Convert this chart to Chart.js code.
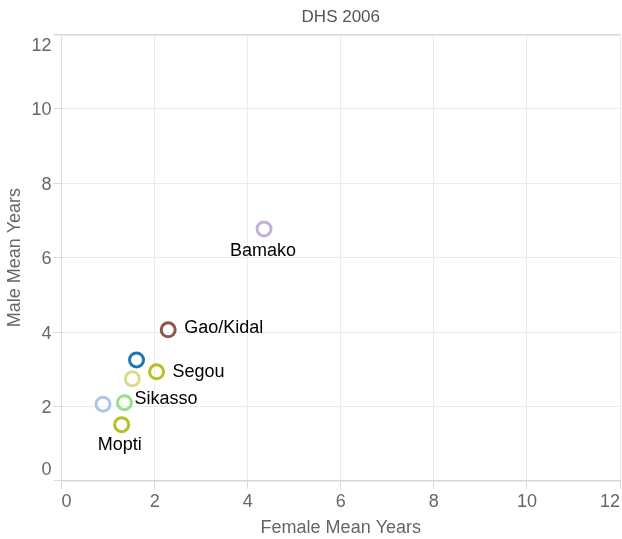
<!DOCTYPE html>
<html>
<head>
<meta charset="utf-8">
<script src="https://cdn.jsdelivr.net/npm/chart.js@4.4.0/dist/chart.umd.min.js"></script>
<style>
  html, body { margin: 0; padding: 0; background: #fff; overflow: hidden; }
  #wrap { width: 630px; height: 539px; position: relative; }
</style>
</head>
<body>
<div id="wrap"><canvas id="scatterChart"></canvas></div>
<script>
// DHS 2006 - mean years of schooling by region
const regions = ['Kayes', 'Koulikoro', 'Sikasso', 'Segou', 'Mopti', 'Tombouctou', 'Gao/Kidal', 'Bamako'];
const femaleYears = [0.89, 1.61, 1.35, 2.04, 1.29, 1.52, 2.29, 4.35];
const maleYears = [2.06, 3.25, 2.10, 2.93, 1.51, 2.74, 4.06, 6.77];
const regionColors = ['#aec7e8', '#1f77b4', '#98df8a', '#bcbd22', '#bcbd22', '#dbdb8d', '#8c564b', '#c5b0d5'];
const axisTicks = [0, 2, 4, 6, 8, 10, 12];

const FONT = '"Liberation Sans", Arial, sans-serif';

// where each visible label goes relative to its point (others hidden, they overlap)
const labelPlacement = {
    'Sikasso': { align: 'left', dx: 10, dy: 1.6 },
    'Segou': { align: 'left', dx: 16, dy: 5.6 },
    'Mopti': { align: 'center', dx: -2, dy: 25 },
    'Gao/Kidal': { align: 'left', dx: 16, dy: 3.3 },
    'Bamako': { align: 'center', dx: -1, dy: 26.7 }
};

const pointLabels = {
    id: 'pointLabels',
    afterDatasetsDraw(chart) {
        const ctx = chart.ctx;
        const meta = chart.getDatasetMeta(0);
        ctx.save();
        ctx.font = '18px ' + FONT;
        ctx.fillStyle = '#000';
        ctx.textBaseline = 'alphabetic';
        meta.data.forEach((pt, i) => {
            const p = labelPlacement[regions[i]];
            if (!p) return;
            ctx.textAlign = p.align;
            ctx.fillText(regions[i], pt.x + p.dx, pt.y + p.dy);
        });
        ctx.restore();
    }
};

// y tick labels flush inside the axis ends (first one sits above 0, last one below 12)
const yFlushLabels = {
    id: 'yFlushLabels',
    afterDraw(chart) {
        const ctx = chart.ctx;
        const y = chart.scales.y;
        ctx.save();
        ctx.font = '18px ' + FONT;
        ctx.fillStyle = '#666';
        ctx.textAlign = 'right';
        ctx.textBaseline = 'alphabetic';
        axisTicks.forEach((v, i) => {
            const py = y.getPixelForValue(v);
            let off = 6.5;
            if (i === 0) off = -5.5;
            if (i === axisTicks.length - 1) off = 17;
            ctx.fillText(String(v), chart.chartArea.left - 10, py + off);
        });
        ctx.restore();
    }
};

const yGridColor = (c) => (c.tick && c.tick.value === 12) ? '#d6d6d6' : '#ebebeb';

const ctx = document.getElementById('scatterChart');
const scatterChart = new Chart(ctx, {
    type: 'scatter',
    data: {
        datasets: [{
            label: 'DHS 2006',
            data: regions.map((r, i) => ({ x: femaleYears[i], y: maleYears[i] })),
            backgroundColor: 'rgba(0,0,0,0)',
            borderColor: regionColors,
            pointRadius: 7,
            pointHoverRadius: 7,
            pointBorderWidth: 3,
            pointHoverBorderWidth: 3
        }]
    },
    options: {
        responsive: true,
        maintainAspectRatio: false,
        animation: false,
        layout: { padding: { left: 4, right: 0, top: 0, bottom: 0 } },
        scales: {
            x: {
                type: 'linear',
                min: 0,
                max: 12,
                afterBuildTicks: (s) => { s.ticks = axisTicks.map(v => ({ value: v })); },
                grid: { color: '#ebebeb', tickColor: '#d9d9d9', tickLength: 8, lineWidth: 1 },
                border: { color: '#d6d6d6', width: 1.5 },
                ticks: { align: 'inner', color: '#666', padding: 2, font: { size: 18, family: FONT } },
                title: { display: true, text: 'Female Mean Years', color: '#666', padding: { top: 3, bottom: 0 }, font: { size: 18, family: FONT } }
            },
            y: {
                type: 'linear',
                min: 0,
                max: 12,
                afterBuildTicks: (s) => { s.ticks = axisTicks.map(v => ({ value: v })); },
                grid: { color: yGridColor, tickColor: '#d9d9d9', tickLength: 8, lineWidth: (c) => (c.tick && c.tick.value === 12) ? 1.5 : 1 },
                border: { color: '#dddddd', width: 1 },
                ticks: { color: 'rgba(0,0,0,0)', padding: 2, font: { size: 18, family: FONT } },
                title: { display: true, text: 'Male Mean Years', color: '#666', padding: { top: 0, bottom: 4 }, font: { size: 18, family: FONT } }
            }
        },
        plugins: {
            legend: { display: false },
            tooltip: { enabled: false },
            title: {
                display: true,
                fullSize: false,
                text: 'DHS 2006',
                color: '#555',
                padding: { top: 7, bottom: 7 },
                font: { size: 17, weight: 'normal', family: FONT }
            }
        }
    },
    plugins: [pointLabels, yFlushLabels]
});
</script>
</body>
</html>
